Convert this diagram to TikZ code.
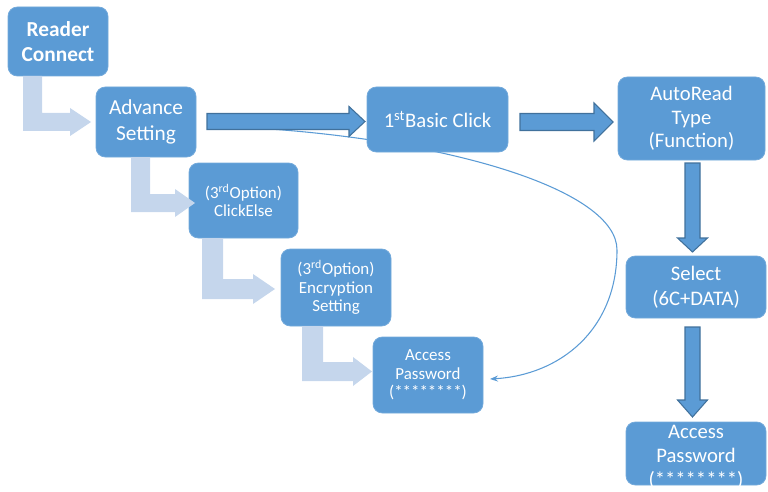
\documentclass[tikz,border=0pt]{standalone}
\usepackage{fontspec}
\setmainfont{Carlito}
\usetikzlibrary{arrows.meta}
\definecolor{boxblue}{HTML}{5B9BD5}
\definecolor{edgeblue}{HTML}{41719C}
\definecolor{lightarr}{HTML}{C5D6EC}
\newcommand{\bentarrow}[7]{%
  \fill[lightarr] (#1,#3) -- (#2,#3) -- (#2,#4) -- (#6,#4) -- (#6,{#4-5}) -- (#7,{(#4+#5)/2}) -- (#6,{#5+5}) -- (#6,#5) -- (#1,#5) -- cycle;}
\newcommand{\hbig}[6]{%
  \filldraw[fill=boxblue,draw=edgeblue,line width=0.8pt] (#1,{#4-#5}) -- (#2,{#4-#5}) -- (#2,{#4-#6}) -- (#3,#4) -- (#2,{#4+#6}) -- (#2,{#4+#5}) -- (#1,{#4+#5}) -- cycle;}
\newcommand{\vbig}[6]{%
  \filldraw[fill=boxblue,draw=edgeblue,line width=0.8pt] ({#1-#5},#2) -- ({#1-#5},#3) -- ({#1-#6},#3) -- (#1,#4) -- ({#1+#6},#3) -- ({#1+#5},#3) -- ({#1+#5},#2) -- cycle;}
\begin{document}
\begin{tikzpicture}[x=0.75pt,y=-0.75pt,
  box/.style={fill=boxblue, draw=boxblue!85!white, line width=0.6pt, rounded corners=7pt, inner sep=0pt, text=white, align=center},
  bigtxt/.style={font=\fontsize{16}{19}\selectfont},
  midtxt/.style={font=\fontsize{15.5}{17.5}\selectfont},
  smalltxt/.style={font=\fontsize{12.7}{13.8}\selectfont},
  curve/.style={draw=boxblue, line width=0.8pt, -{Stealth[length=6pt,width=4.5pt]}}]
\useasboundingbox (0,0) rectangle (768,492);
% free ends of the curved connector
\coordinate (cs) at (255,128);
\coordinate (ce) at (490,379);
\draw[curve] (cs) .. controls (450,140) and (617,190) .. (617,250)
                  .. controls (617,330) and (560,375) .. (ce);
% big arrows
\hbig{207}{349}{365}{121.5}{8}{15}
\hbig{520}{594}{613}{122}{8.5}{19}
\vbig{692.5}{163}{238}{252}{7.5}{15}
\vbig{692.5}{327}{400}{417}{7.5}{15}
% boxes
\node[box, bigtxt, minimum width=75pt, minimum height=51.75pt] (rc) at (58,41.5) {\bfseries Reader\\\bfseries Connect};
\node[box, bigtxt, minimum width=75pt, minimum height=52.5pt] (adv) at (146,122) {Advance\\Setting};
\node[box, midtxt, minimum width=105.75pt, minimum height=48.75pt] (basic) at (437.5,119.5) {1\textsuperscript{st}Basic Click};
\node[box, midtxt, minimum width=110.25pt, minimum height=62.25pt] (auto) at (691.5,118.5) {AutoRead\\Type\\(Function)};
\node[box, font=\fontsize{15.5}{18.5}\selectfont, minimum width=105pt, minimum height=46.5pt] (sel) at (696,287) {Select\\(6C+DATA)};
\node[box, minimum width=105pt, minimum height=47.25pt] (acc2) at (696,453.5) {};
\node[text=white, align=center, inner sep=0pt, font=\fontsize{15.5}{18}\selectfont] (acc2t) at (696,457) {Access\\Password\\(********)};
\node[box, smalltxt, minimum width=81.75pt, minimum height=56.25pt] (click) at (243.5,200.5) {(3\textsuperscript{rd}Option)\\ClickElse};
\node[box, smalltxt, minimum width=82.5pt, minimum height=57.75pt] (enc) at (336,287.5) {(3\textsuperscript{rd}Option)\\Encryption\\Setting};
\node[box, smalltxt, minimum width=82.5pt, minimum height=57pt] (acc1) at (428,375) {Access\\Password\\(********)};
% light bent arrows
\bentarrow{23}{42}{76}{113}{131}{70}{91}
\bentarrow{131}{150}{157}{194}{212}{175}{195}
\bentarrow{202}{223}{238}{279}{299}{253}{275}
\bentarrow{302}{323}{326}{362}{381}{353}{372}
\end{tikzpicture}
\end{document}
